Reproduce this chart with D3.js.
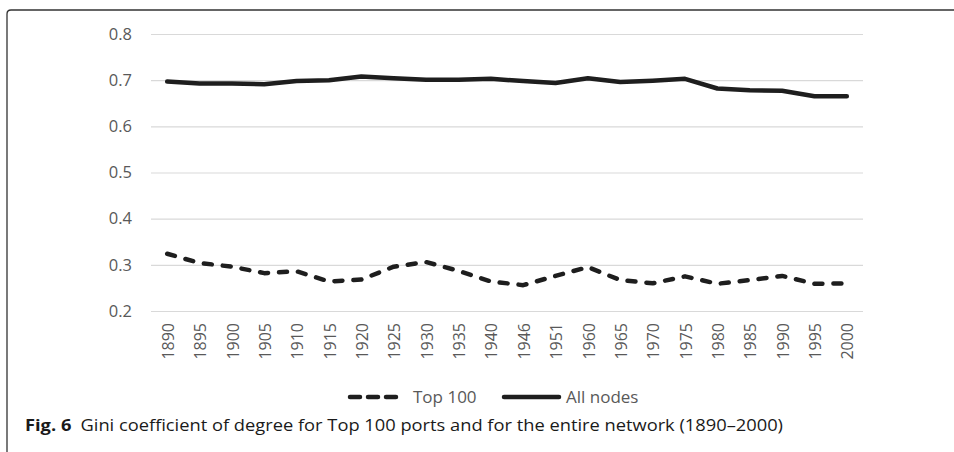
<!DOCTYPE html>
<html>
<head>
<meta charset="utf-8">
<script src="https://cdn.jsdelivr.net/npm/d3@7"></script>
<style>
  body { margin: 0; background: #fff; }
  svg { display: block; }
</style>
</head>
<body>
<script>
// years on the x axis (note the uneven steps, as in the source)
var years = ["1890", "1895", "1900", "1905", "1910", "1915", "1920", "1925", "1930", "1935",
             "1940", "1946", "1951", "1960", "1965", "1970", "1975", "1980", "1985", "1990",
             "1995", "2000"];

var top100 = [0.324, 0.304, 0.296, 0.282, 0.286, 0.264, 0.268, 0.296, 0.306, 0.287,
              0.264, 0.256, 0.276, 0.295, 0.267, 0.260, 0.275, 0.259, 0.267, 0.276,
              0.259, 0.260];

var allNodes = [0.697, 0.693, 0.693, 0.691, 0.698, 0.700, 0.708, 0.704, 0.701, 0.701,
                0.703, 0.698, 0.694, 0.704, 0.696, 0.699, 0.703, 0.682, 0.678, 0.677,
                0.665, 0.665];

var yTicks = [0.2, 0.3, 0.4, 0.5, 0.6, 0.7, 0.8];

var width = 954, height = 452;
var ink = "#1e1e1e", grey = "#595959";

var svg = d3.select("body").append("svg")
    .attr("width", width)
    .attr("height", height);

// frame around the figure (open to the right and bottom)
svg.append("path")
    .attr("d", "M7," + height + " V14 Q7,10 11,10 H" + width)
    .attr("fill", "none")
    .attr("stroke", "#333")
    .attr("stroke-width", 1.3);

var x = d3.scaleBand()
    .domain(years)
    .range([151, 863]);

var y = d3.scaleLinear()
    .domain([0.2, 0.8])
    .range([311, 34]);

function cx(d) { return x(d) + x.bandwidth() / 2; }

// y axis with gridlines
var yAxis = svg.append("g")
    .attr("transform", "translate(151,0)")
    .call(d3.axisLeft(y).tickValues(yTicks).tickSize(-712).tickPadding(19)
          .tickFormat(d3.format(".1f")));
yAxis.select(".domain").remove();
yAxis.selectAll(".tick line").attr("stroke", "#d9d9d9").attr("stroke-width", 1.2);
yAxis.selectAll(".tick text")
    .attr("fill", grey)
    .style("font-family", "'Open Sans', sans-serif")
    .style("font-size", "16.5px");

// x axis labels, rotated
var xAxis = svg.append("g")
    .attr("transform", "translate(0,311)")
    .call(d3.axisBottom(x).tickSize(0));
xAxis.select(".domain").remove();
xAxis.selectAll(".tick text")
    .attr("fill", grey)
    .attr("transform", "translate(1,12) rotate(-90)")
    .attr("x", 0)
    .attr("y", 0)
    .attr("dy", "0.35em")
    .style("text-anchor", "end")
    .style("font-family", "'Open Sans', sans-serif")
    .style("font-size", "16px");

var line = d3.line()
    .x(function (d, i) { return cx(years[i]); })
    .y(function (d) { return y(d); });

svg.append("path")
    .datum(allNodes)
    .attr("d", line)
    .attr("fill", "none")
    .attr("stroke", ink)
    .attr("stroke-width", 4.5)
    .attr("stroke-linejoin", "round")
    .attr("stroke-linecap", "round");

svg.append("path")
    .datum(top100)
    .attr("d", line)
    .attr("fill", "none")
    .attr("stroke", ink)
    .attr("stroke-width", 4.5)
    .attr("stroke-dasharray", "8,11")
    .attr("stroke-linejoin", "round")
    .attr("stroke-linecap", "round");

// legend
var legend = svg.append("g").style("font-family", "'Open Sans', sans-serif").style("font-size", "17px");
legend.append("line")
    .attr("x1", 350).attr("x2", 399).attr("y1", 397).attr("y2", 397)
    .attr("stroke", ink).attr("stroke-width", 4.5)
    .attr("stroke-dasharray", "10,8").attr("stroke-linecap", "round");
legend.append("text").attr("x", 413).attr("y", 397).attr("dy", "0.35em")
    .attr("fill", grey).text("Top 100");
legend.append("line")
    .attr("x1", 504).attr("x2", 559).attr("y1", 397).attr("y2", 397)
    .attr("stroke", ink).attr("stroke-width", 4.5).attr("stroke-linecap", "round");
legend.append("text").attr("x", 566).attr("y", 397).attr("dy", "0.35em")
    .attr("fill", grey).text("All nodes");

// caption
var cap = svg.append("text")
    .attr("x", 25).attr("y", 431)
    .attr("fill", "#1a1a1a")
    .attr("textLength", 758)
    .attr("lengthAdjust", "spacingAndGlyphs")
    .style("font-family", "'Open Sans', sans-serif")
    .style("font-size", "16px");
cap.append("tspan").style("font-weight", "bold").text("Fig. 6");
cap.append("tspan").text("\u2002Gini coefficient of degree for Top 100 ports and for the entire network (1890\u20132000)");
</script>
</body>
</html>
